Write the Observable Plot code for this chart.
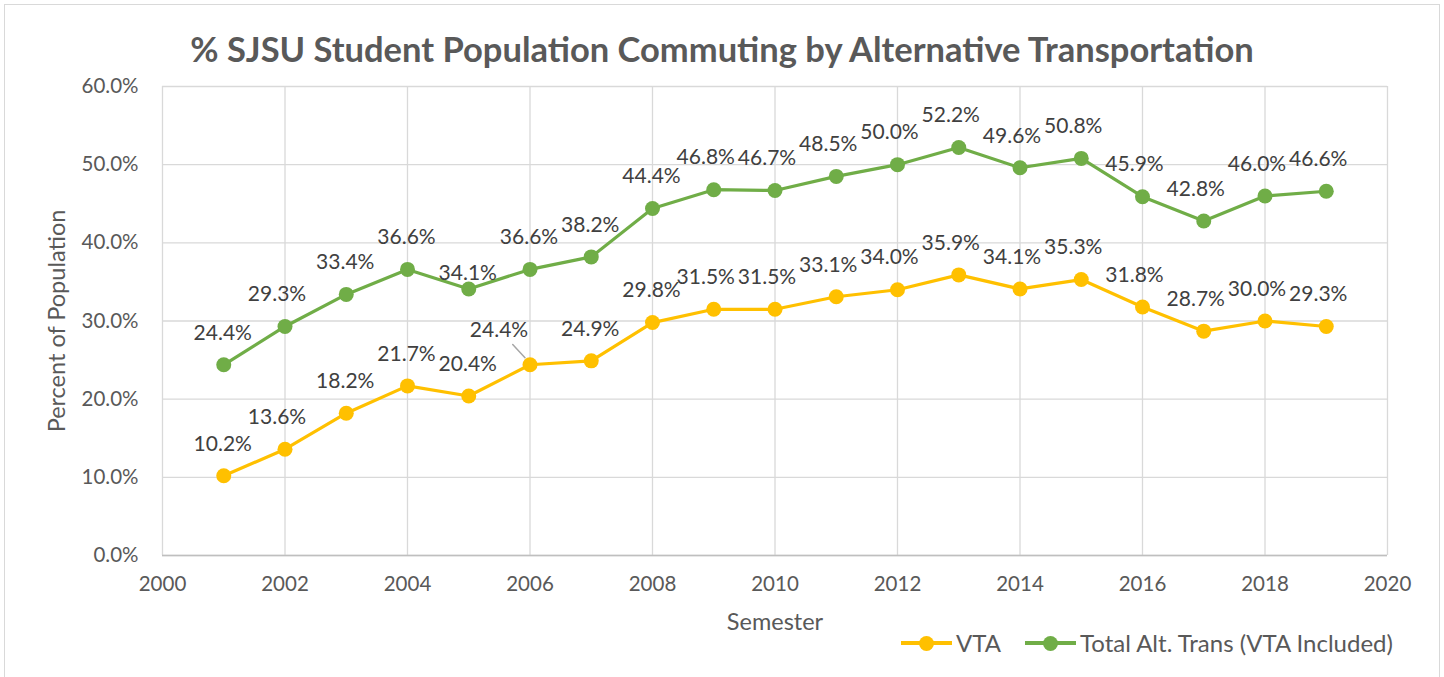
<!DOCTYPE html>
<html>
<head>
<meta charset="utf-8">
<script src="https://cdn.jsdelivr.net/npm/d3@7"></script>
<script src="https://cdn.jsdelivr.net/npm/@observablehq/plot@0.6"></script>
<style>
  body { margin: 0; background: #fff; font-family: Lato, "Open Sans", sans-serif; }
  #wrap { position: relative; width: 1444px; height: 677px; overflow: hidden; }
  #border { position: absolute; left: 4px; top: 4px; width: 1434px; height: 680px; border: 1.5px solid #D9D9D9; }
  #title { position: absolute; left: 0; width: 1444px; top: 28px; text-align: center; font-size: 34.5px; font-weight: bold; color: #595959; }
  #legend { position: absolute; top: 628px; left: 901px; font-size: 24px; color: #595959; display: flex; align-items: center; }
  .item { display: flex; align-items: center; margin-right: 24px; }
  .sw { position: relative; width: 51px; height: 20px; margin-right: 4px; }
  .sw .ln { position: absolute; left: 0; right: 0; top: 8px; height: 4px; }
  .sw .dt { position: absolute; left: 18px; top: 3px; width: 15px; height: 15px; border-radius: 50%; }
  #chart { position: absolute; left: 0; top: 0; }
</style>
</head>
<body>
<div id="wrap">
  <div id="border"></div>
  <div id="chart"></div>
  <div id="title">% SJSU Student Population Commuting by Alternative Transportation</div>
  <div id="legend">
    <div class="item"><div class="sw"><div class="ln" style="background:#FFC000"></div><div class="dt" style="background:#FFC000"></div></div>VTA</div>
    <div class="item"><div class="sw"><div class="ln" style="background:#70AD47"></div><div class="dt" style="background:#70AD47"></div></div>Total Alt. Trans (VTA Included)</div>
  </div>
</div>
<script>
const years = [2001,2002,2003,2004,2005,2006,2007,2008,2009,2010,2011,2012,2013,2014,2015,2016,2017,2018,2019];
const vta   = [10.2,13.6,18.2,21.7,20.4,24.4,24.9,29.8,31.5,31.5,33.1,34.0,35.9,34.1,35.3,31.8,28.7,30.0,29.3];
const total = [24.4,29.3,33.4,36.6,34.1,36.6,38.2,44.4,46.8,46.7,48.5,50.0,52.2,49.6,50.8,45.9,42.8,46.0,46.6];
const xTicks = [2000,2002,2004,2006,2008,2010,2012,2014,2016,2018,2020];
const yTicks = [0,10,20,30,40,50,60];
const seriesNames = ["VTA", "Total Alt. Trans (VTA Included)"];
const colors = ["#FFC000", "#70AD47"];

const data = [];
years.forEach((y, i) => {
  data.push({year: y, value: vta[i], series: seriesNames[0]});
  data.push({year: y, value: total[i], series: seriesNames[1]});
});
const fmt = d => d.toFixed(1) + "%";
const LBL = 21;

// label placement groups (style, not data)
const isSpecial = d => (d.series === seriesNames[1] && d.year === 2005) || (d.series === seriesNames[0] && d.year === 2006);
const normal = data.filter(d => !isSpecial(d));
const firstCol = normal.filter(d => d.year <= 2008 && d.year !== 2002);
const laterCol = normal.filter(d => d.year > 2008 || d.year === 2002);
const leaderPt = data.filter(d => d.series === seriesNames[0] && d.year === 2006);

const marks = [
  Plot.gridY(yTicks, {stroke: "#D9D9D9", strokeOpacity: 1, strokeWidth: 1.3}),
  Plot.gridX(xTicks, {stroke: "#D9D9D9", strokeOpacity: 1, strokeWidth: 1.3}),
  Plot.ruleY([0], {stroke: "#BFBFBF", strokeWidth: 1.5}),
  Plot.axisY(yTicks, {tickSize: 0, tickPadding: 24, tickFormat: fmt, fill: "#595959", fontSize: 20.5, label: null}),
  Plot.axisX(xTicks, {tickSize: 0, tickPadding: 21, tickFormat: d => String(d), fill: "#595959", fontSize: 20.5, label: null}),
  Plot.line(data, {x: "year", y: "value", z: "series", stroke: "series", strokeWidth: 3.2}),
  Plot.dot(data, {x: "year", y: "value", fill: "series", r: 7.5}),
  Plot.text(firstCol, {x: "year", y: "value", text: d => fmt(d.value), dy: -32, dx: -1, fill: "#404040", fontSize: LBL}),
  Plot.text(laterCol, {x: "year", y: "value", text: d => fmt(d.value), dy: -32, dx: -8, fill: "#404040", fontSize: LBL}),
  Plot.text(data.filter(d => d.series === seriesNames[1] && d.year === 2005), {x: "year", y: "value", text: d => fmt(d.value), dy: -16, dx: -1, fill: "#404040", fontSize: LBL}),
  Plot.text(leaderPt, {x: "year", y: "value", text: d => fmt(d.value), dy: -35, dx: -31, fill: "#404040", fontSize: LBL}),
  Plot.text(["Percent of Population"], {frameAnchor: "left", dx: -105, rotate: -90, textAnchor: "middle", fill: "#595959", fontSize: 23.5}),
  Plot.text(["Semester"], {frameAnchor: "bottom", dy: 74, fill: "#595959", fontSize: 23.5})
];

let plot;
try {
  const leader = Plot.vector(leaderPt, {x: "year", y: "value", length: 18, rotate: -43, anchor: "start", dx: -5, dy: -7,
    stroke: "#A6A6A6", strokeWidth: 1.5,
    shape: {draw(context, l) { context.moveTo(0, 0); context.lineTo(0, -l); }}});
  plot = makePlot([...marks, leader]);
} catch (e) {
  plot = makePlot(marks);
}

function makePlot(m) {
  return Plot.plot({
    width: 1444,
    height: 677,
    marginLeft: 162,
    marginRight: 57,
    marginTop: 86,
    marginBottom: 122,
    style: {fontFamily: "Lato, 'Open Sans', sans-serif", fontSize: "20px", color: "#595959", background: "transparent"},
    x: {domain: [2000, 2020], ticks: xTicks, tickFormat: d => String(d), label: null},
    y: {domain: [0, 60], ticks: yTicks, tickFormat: fmt, label: null},
    color: {domain: seriesNames, range: colors},
    marks: m
  });
}
document.getElementById("chart").appendChild(plot);
</script>
</body>
</html>
